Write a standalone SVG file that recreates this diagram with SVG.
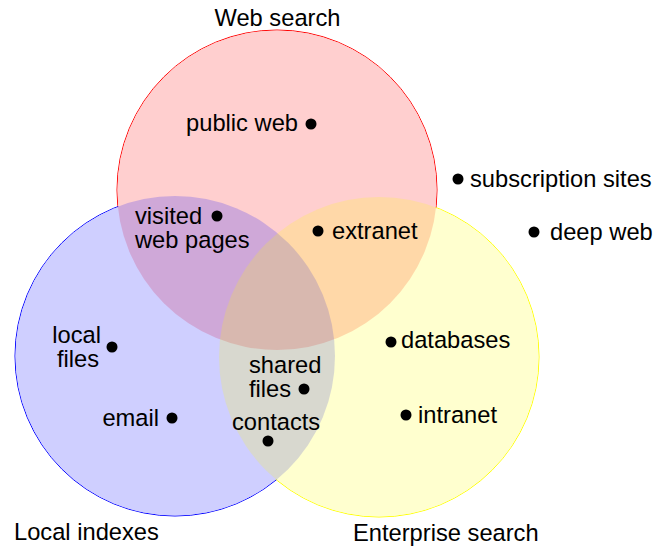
<svg xmlns="http://www.w3.org/2000/svg" width="665" height="546" viewBox="0 0 665 546">
<style>
text{font-family:"Liberation Sans",Arial,sans-serif;font-size:23.7px;fill:#000}
.dot{fill:#000}
</style>
<rect width="665" height="546" fill="#fff"/>
<g id="circles">
  <g id="web-search">
    <circle cx="277" cy="190" r="160" fill="none" stroke="#ff0000" stroke-width="1"/>
  </g>
  <g id="local-indexes">
    <circle cx="175" cy="356" r="160" fill="none" stroke="#0000ff" stroke-width="1"/>
  </g>
  <g id="enterprise-search">
    <circle cx="379" cy="357" r="160" fill="none" stroke="#ffff00" stroke-width="1"/>
  </g>
  <g id="cover">
    <circle cx="277" cy="190" r="159.6" fill="#fff"/>
    <circle cx="175" cy="356" r="159.6" fill="#fff"/>
    <circle cx="379" cy="357" r="159.6" fill="#fff"/>
  </g>
  <g id="fills">
    <circle cx="277" cy="190" r="160" fill="#ff0000" fill-opacity="0.19"/>
    <circle cx="175" cy="356" r="160" fill="#0000ff" fill-opacity="0.19"/>
    <circle cx="379" cy="357" r="160" fill="#ffff00" fill-opacity="0.19"/>
  </g>
</g>
<g id="set-labels">
  <text x="277.5" y="26" text-anchor="middle">Web search</text>
  <text x="14" y="540">Local indexes</text>
  <text x="353" y="541">Enterprise search</text>
</g>
<g id="public-web"><circle class="dot" cx="311" cy="124" r="5.5"/><text x="298" y="131" text-anchor="end">public web</text></g>
<g id="subscription-sites"><circle class="dot" cx="458" cy="179" r="5.5"/><text x="470" y="187">subscription sites</text></g>
<g id="deep-web"><circle class="dot" cx="534" cy="232" r="5.5"/><text x="550" y="240">deep web</text></g>
<g id="visited-web-pages"><circle class="dot" cx="217" cy="216" r="5.5"/><text x="135" y="224">visited</text><text x="135" y="248">web pages</text></g>
<g id="extranet"><circle class="dot" cx="318" cy="231" r="5.5"/><text x="332" y="239">extranet</text></g>
<g id="local-files"><circle class="dot" cx="112" cy="347" r="5.5"/><text x="101" y="343" text-anchor="end">local</text><text x="99" y="367" text-anchor="end">files</text></g>
<g id="email"><circle class="dot" cx="172" cy="418" r="5.5"/><text x="159" y="426" text-anchor="end">email</text></g>
<g id="shared-files"><circle class="dot" cx="304" cy="389" r="5.5"/><text x="249" y="373">shared</text><text x="249" y="397">files</text></g>
<g id="contacts"><circle class="dot" cx="268" cy="441" r="5.5"/><text x="232" y="430">contacts</text></g>
<g id="databases"><circle class="dot" cx="391" cy="342" r="5.5"/><text x="401" y="348">databases</text></g>
<g id="intranet"><circle class="dot" cx="406" cy="415" r="5.5"/><text x="418" y="423">intranet</text></g>
<g id="connectors"></g>
</svg>
